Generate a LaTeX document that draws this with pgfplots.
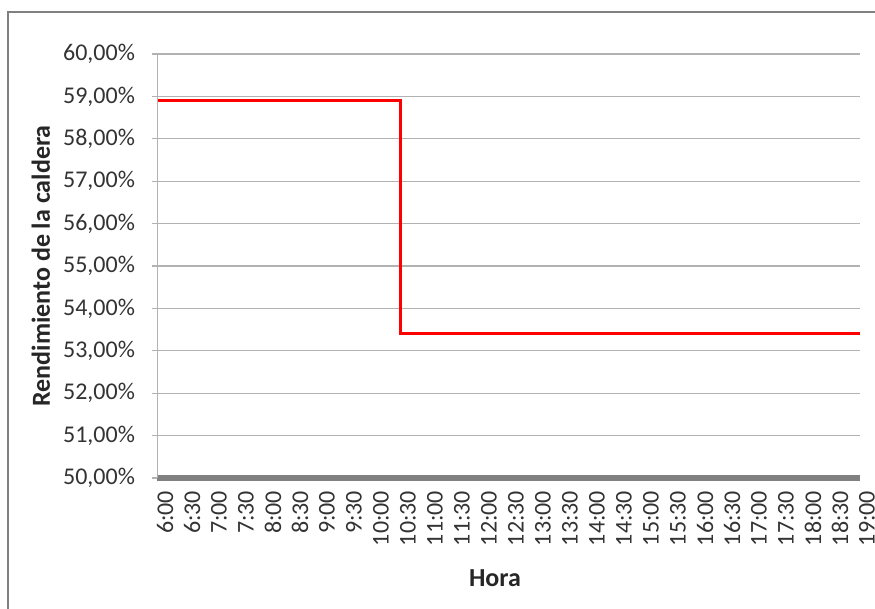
\documentclass[border=0pt]{standalone}
\usepackage{fontspec}
\setmainfont{Carlito}
\usepackage{pgfplots}
\pgfplotsset{compat=1.18}

\begin{document}
\begin{tikzpicture}
% 1 px of the reference = 0.5pt
\useasboundingbox (0,0) rectangle (437.5pt,304.5pt);
\draw[black!50, line width=0.8pt] (3.9pt,-5pt) -- (3.9pt,298.5pt) -- (445pt,298.5pt);

\begin{axis}[
	at={(79pt,65.5pt)}, anchor=south west,
	scale only axis,
	width=351pt, height=212pt,
	xmin=0, xmax=26,
	ymin=50, ymax=60,
	axis x line*=bottom,
	axis y line*=left,
	axis line style={black!30, line width=0.5pt},
	x axis line style={black!50, line width=2.8pt, shorten <=-0.5pt},
	xtick={0,...,26},
	xticklabels={6:00,6:30,7:00,7:30,8:00,8:30,9:00,9:30,10:00,10:30,11:00,11:30,12:00,12:30,13:00,13:30,14:00,14:30,15:00,15:30,16:00,16:30,17:00,17:30,18:00,18:30,19:00},
	ytick={50,51,...,60},
	yticklabels={{50,00\%},{51,00\%},{52,00\%},{53,00\%},{54,00\%},{55,00\%},{56,00\%},{57,00\%},{58,00\%},{59,00\%},{60,00\%}},
	tick align=outside,
	xtick style={draw=none},
	ytick style={black!30, line width=0.6pt},
	major tick length=3pt,
	ymajorgrids=true,
	grid style={black!30, line width=0.6pt},
	tick label style={font=\fontsize{12}{14}\selectfont, text=black!80},
	yticklabel style={xshift=-5pt},
	xticklabel style={rotate=90, anchor=east, yshift=-3.5pt},
	xlabel={\textbf{Hora}},
	ylabel={\textbf{Rendimiento de la caldera}},
	label style={font=\fontsize{13}{15}\selectfont, text=black!85},
	xlabel style={at={(rel axis cs:0.48,0)}, anchor=center, yshift=-50pt},
	ylabel style={at={(rel axis cs:-0.167,0.5)}, anchor=center},
	clip=false,
]
\draw[black!30, line width=0.6pt] (axis cs:0,60) -- (axis cs:26,60);
\addplot[red, line width=1.5pt] coordinates {
	(0,58.9) (1,58.9) (2,58.9) (3,58.9) (4,58.9) (5,58.9) (6,58.9) (7,58.9) (8,58.9) (9,58.9)
	(9,53.4) (10,53.4) (11,53.4) (12,53.4) (13,53.4) (14,53.4) (15,53.4) (16,53.4) (17,53.4)
	(18,53.4) (19,53.4) (20,53.4) (21,53.4) (22,53.4) (23,53.4) (24,53.4) (25,53.4) (26,53.4)
};
\end{axis}
\end{tikzpicture}
\end{document}
